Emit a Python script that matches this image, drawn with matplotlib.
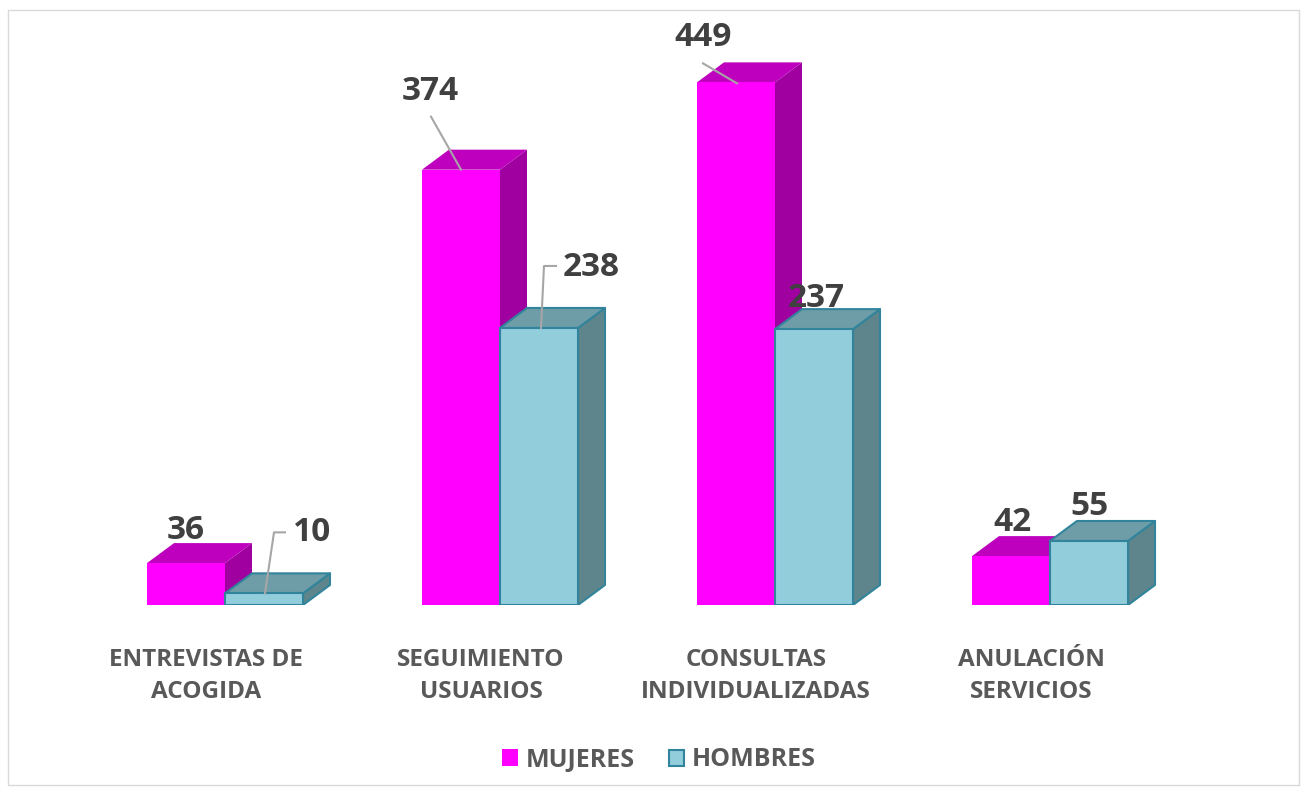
import numpy as np
import matplotlib.pyplot as plt
from matplotlib.patches import Polygon, Rectangle
from matplotlib.transforms import IdentityTransform

plt.rcParams['font.family'] = ['Open Sans', 'DejaVu Sans']

categorias = ['ENTREVISTAS DE\nACOGIDA', 'SEGUIMIENTO\nUSUARIOS',
              'CONSULTAS\nINDIVIDUALIZADAS', 'ANULACIÓN\nSERVICIOS']
mujeres = [36, 374, 449, 42]
hombres = [10, 238, 237, 55]
series = ['MUJERES', 'HOMBRES']

# colores: frente, arriba, lado, borde
col_m = ('#FF00FF', '#BE00BE', '#A000A0', 'none')
col_h = ('#92CDDC', '#6E9DA8', '#5E848C', '#31849B')

W, H = 1307, 793
fig = plt.figure(figsize=(W / 100, H / 100), dpi=100)
fig.patches.append(Rectangle((8 / W, 8 / H), 1 - 16 / W, 1 - 18 / H, transform=fig.transFigure,
                             fill=False, edgecolor='#D9D9D9', linewidth=1))

ax = fig.add_axes([87.5 / W, 188 / H, 1100 / W, 582 / H])
ax.set_xlim(-0.5, 3.5)
ax.set_ylim(0, 500)
ax.axis('off')

w = 78 / 275
dx = 27 / 275              # profundidad en x (datos)
dy = 20 / (582 / 500)      # profundidad en y (datos)


def barra3d(x0, v, col):
    f, t, s, e = col
    lw = 1.5 if e != 'none' else 0
    ax.add_patch(Polygon([(x0 + w, 0), (x0 + w + dx, dy), (x0 + w + dx, v + dy), (x0 + w, v)],
                         facecolor=s, edgecolor=e, linewidth=lw, joinstyle='round'))
    ax.add_patch(Polygon([(x0, v), (x0 + dx, v + dy), (x0 + w + dx, v + dy), (x0 + w, v)],
                         facecolor=t, edgecolor=e, linewidth=lw, joinstyle='round'))
    ax.bar(x0, v, width=w, align='edge', color=f, edgecolor=e, linewidth=lw)


for i in range(len(categorias)):
    barra3d(i - w, mujeres[i], col_m)
    barra3d(i, hombres[i], col_h)

# etiquetas de valor (desplazamientos en píxeles desde el centro del frente)
off_m = [(0, 33), (-31, 78), (-33, 45), (1, 34)]
off_h = [(48, 61), (52, 60), (2, 31), (1, 34)]
lider_m = {1: [(0, 0), (-30, 53)], 2: [(1, -1), (-33, 19)]}
lider_h = {0: [(1, 0), (10, 61), (21, 61)], 1: [(2, 0), (5, 62), (17, 62)]}

fig.canvas.draw()
for vals, xs, offs, lid in [(mujeres, -w / 2, off_m, lider_m), (hombres, w / 2, off_h, lider_h)]:
    for i, v in enumerate(vals):
        px, py = ax.transData.transform((i + xs, v))
        if i in lid:
            pts = np.array(lid[i], dtype=float)
            ax.plot(px + pts[:, 0], py + pts[:, 1], color='#A6A6A6', lw=1.5,
                    transform=IdentityTransform(), clip_on=False)
        ax.annotate(str(v), (i + xs, v), xytext=offs[i], textcoords='offset pixels',
                    ha='center', va='center', fontsize=24, fontweight='bold', color='#404040')

for i, c in enumerate(categorias):
    ax.annotate(c, (i, 0), xytext=(-19, -71), textcoords='offset pixels', ha='center',
                va='center', fontsize=17.5, fontweight='bold', color='#595959', linespacing=1.45,
                annotation_clip=False)

# leyenda
fig.patches.append(Rectangle((502 / W, (H - 766) / H), 16 / W, 17 / H, transform=fig.transFigure,
                             facecolor=col_m[0], edgecolor='none'))
fig.patches.append(Rectangle((669 / W, (H - 766) / H), 15 / W, 16 / H, transform=fig.transFigure,
                             facecolor=col_h[0], edgecolor=col_h[3], linewidth=1.5))
fig.text(526 / W, (H - 760) / H, series[0], ha='left', va='center', fontsize=18,
         fontweight='bold', color='#595959')
fig.text(692 / W, (H - 760) / H, series[1], ha='left', va='center', fontsize=18,
         fontweight='bold', color='#595959')

fig.savefig('out.png', dpi=100, facecolor='white')
